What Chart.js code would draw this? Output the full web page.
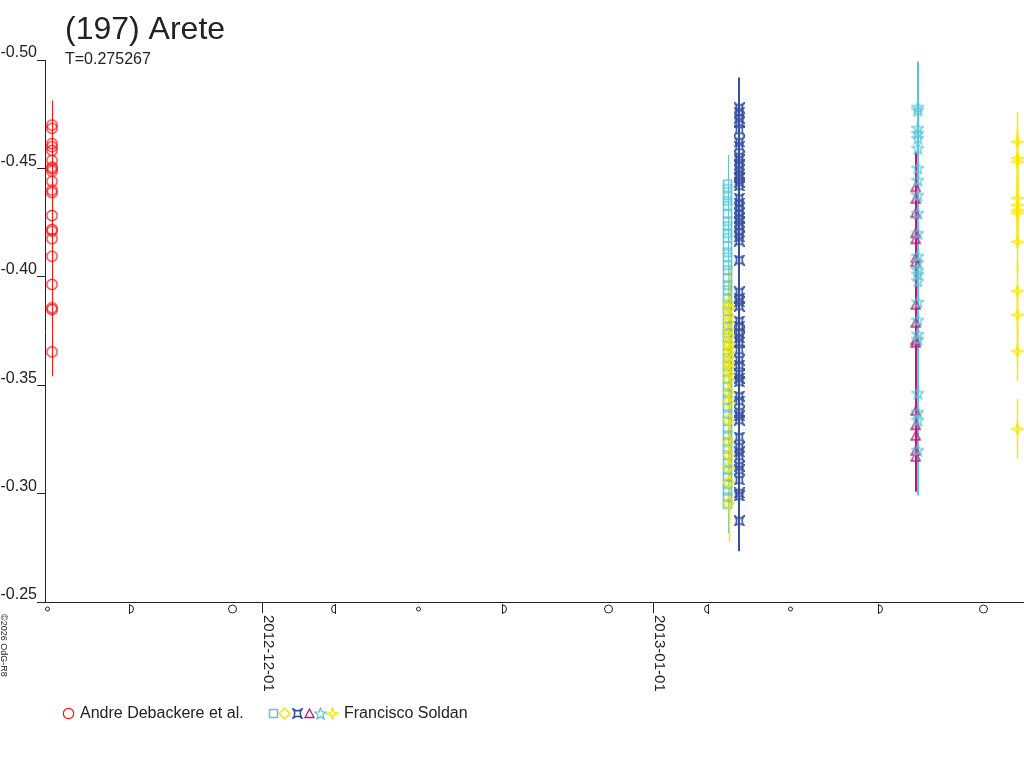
<!DOCTYPE html>
<html><head><meta charset="utf-8">
<script src="https://cdn.jsdelivr.net/npm/chart.js@4"></script>
<style>html,body{margin:0;padding:0;background:#fff;overflow:hidden}canvas{display:block}</style>
</head><body>
<canvas id="c" width="1024" height="768"></canvas>
<script>
// ---------- texts ----------
const titleText = '(197) Arete';
const subtitleText = 'T=0.275267';
const copyrightText = '\u00a92026 OdG-R8';
const observerNames = ['Andre Debackere et al.', 'Francisco Soldan'];

// ---------- axes ----------
const yTickValues = [-0.50, -0.45, -0.40, -0.35, -0.30, -0.25];
const xTickLabels = ['2012-12-01', '2013-01-01'];
const xRangeStart = '2012-11-13T19:05:00Z';
const xRangeEnd = '2013-01-30T09:56:00Z';

// moon phases shown along the time axis
const moonDates = ['2012-11-13T22:08:00Z','2012-11-20T14:31:00Z','2012-11-28T14:46:00Z','2012-12-06T15:31:00Z',
  '2012-12-13T08:42:00Z','2012-12-20T05:19:00Z','2012-12-28T10:21:00Z','2013-01-05T03:58:00Z',
  '2013-01-11T19:44:00Z','2013-01-18T23:45:00Z','2013-01-27T04:38:00Z'];
const moonPhases = ['new','first','full','last','new','first','full','last','new','first','full'];

// ---------- series ----------
// Andre Debackere et al. (red circles)
const andreDate = '2012-11-14T08:24:00Z';
const andreMag = [-0.4700,-0.4685,-0.4614,-0.4600,-0.4583,-0.4537,-0.4506,-0.4499,-0.4488,-0.4441,-0.4400,
  -0.4388,-0.4283,-0.4219,-0.4211,-0.4176,-0.4095,-0.3965,-0.3857,-0.3849,-0.3654];
const andreErr = 0.0113;

// Francisco Soldan, session 1 (cyan squares)
const soldan1Date = '2013-01-06T21:50:00Z';
const soldan1Mag = [-0.4428,-0.4405,-0.4377,-0.4350,-0.4327,-0.4290,-0.4257,-0.4234,-0.4202,-0.4179,-0.4142,
  -0.4114,-0.4091,-0.4054,-0.4031,-0.3994,-0.3962,-0.3939,-0.3898,-0.3870,-0.3842,-0.3805,-0.3773,-0.3741,
  -0.3718,-0.3681,-0.3649,-0.3625,-0.3589,-0.3561,-0.3529,-0.3492,-0.3464,-0.3432,-0.3395,-0.3367,-0.3335,
  -0.3298,-0.3270,-0.3238,-0.3206,-0.3178,-0.3141,-0.3109,-0.3077,-0.3044,-0.3012,-0.2984,-0.2952];
const soldan1Err = 0.0135;

// Francisco Soldan, session 2 (yellow diamonds)
const soldan2Date = '2013-01-06T23:50:00Z';
const soldan2Mag = [-0.3879,-0.3856,-0.3824,-0.3792,-0.3755,-0.3727,-0.3695,-0.3676,-0.3653,-0.3630,-0.3602,
  -0.3579,-0.3556,-0.3524,-0.3469,-0.3423,-0.3339,-0.3238,-0.3178,-0.3123,-0.3054,-0.2957];
const soldan2Err = 0.018;

// Francisco Soldan, session 3 (dark blue)
const soldan3Date = '2013-01-07T20:10:00Z';
const soldan3Mag = [-0.4779,-0.4760,-0.4732,-0.4714,-0.4677,-0.4622,-0.4603,-0.4553,-0.4539,-0.4516,-0.4493,
  -0.4474,-0.4456,-0.4437,-0.4419,-0.4363,-0.4340,-0.4317,-0.4294,-0.4271,-0.4253,-0.4234,-0.4207,-0.4184,
  -0.4165,-0.4077,-0.3930,-0.3902,-0.3884,-0.3865,-0.3796,-0.3773,-0.3741,-0.3718,-0.3699,-0.3662,-0.3616,
  -0.3593,-0.3552,-0.3533,-0.3515,-0.3450,-0.3427,-0.3376,-0.3358,-0.3339,-0.3261,-0.3215,-0.3192,-0.3173,
  -0.3127,-0.3109,-0.3063,-0.3003,-0.2989,-0.2874];
const soldan3Err = 0.014;

// Francisco Soldan, session 4 (magenta triangles)
const soldan4Date = '2013-01-21T20:00:00Z';
const soldan4Mag = [-0.4414,-0.4359,-0.4294,-0.4202,-0.4174,-0.4087,-0.4068,-0.3870,-0.3787,-0.3708,-0.3695,
  -0.3381,-0.3316,-0.3266,-0.3197,-0.3169];
const soldan4Err = 0.016;

// Francisco Soldan, session 5 (cyan stars)
const soldan5Date = '2013-01-22T00:00:00Z';
const soldan5Mag = [-0.4783,-0.4769,-0.4686,-0.4663,-0.4640,-0.4594,-0.4502,-0.4446,-0.4377,-0.4294,-0.4202,
  -0.4096,-0.4068,-0.4031,-0.4013,-0.3981,-0.3884,-0.3801,-0.3736,-0.3713,-0.3464,-0.3376,-0.3339,-0.3201];
const soldan5Err = 0.021;

// Francisco Soldan, session 6 (yellow 4-point stars)
const soldan6Date = '2013-01-29T21:10:00Z';
const soldan6Mag = [-0.4622,-0.4548,-0.4530,-0.4363,-0.4331,-0.4308,-0.4294,-0.4161,-0.3934,-0.3824,-0.3658,-0.3298];
const soldan6Err = 0.0138;

// ---------- styles ----------
const RED = '#ff1010', CYAN = '#5cc6d8', YELLOW = '#fae600', BLUE = '#3650a0', MAGENTA = '#bb1a78', INK = '#222222';
const FONT = "'Liberation Sans', Arial, sans-serif";

function mk(w, h, color, lw, draw) {
  const c = document.createElement('canvas'); c.width = w; c.height = h;
  const g = c.getContext('2d'); g.strokeStyle = color; g.lineWidth = lw; g.beginPath(); draw(g); g.stroke();
  return c;
}
const mCircle = mk(13, 13, RED, 1.2, g => { g.arc(6.5, 6.5, 5.2, 0, Math.PI * 2); });
const mSquare = mk(11, 11, CYAN, 1.5, g => { g.rect(1.5, 1.5, 8, 8); });
const mDiamond = mk(13, 13, YELLOW, 1.4, g => { g.moveTo(6.5, 1); g.lineTo(12, 6.5); g.lineTo(6.5, 12); g.lineTo(1, 6.5); g.closePath(); });
const mCurr = mk(11, 11, BLUE, 1.6, g => {
  g.moveTo(1, 1); g.quadraticCurveTo(5.5, 4.5, 10, 1); g.quadraticCurveTo(6.5, 5.5, 10, 10);
  g.quadraticCurveTo(5.5, 6.5, 1, 10); g.quadraticCurveTo(4.5, 5.5, 1, 1); g.closePath();
});
const mTri = mk(11, 11, MAGENTA, 1.3, g => { g.moveTo(5.5, 1); g.lineTo(10, 9.5); g.lineTo(1, 9.5); g.closePath(); });
const mStar = mk(13, 13, CYAN, 1.3, g => {
  for (let k = 0; k < 10; k++) {
    const r = k % 2 ? 2.6 : 6, a = -Math.PI / 2 + k * Math.PI / 5;
    const px = 6.5 + r * Math.cos(a), py = 7 + r * Math.sin(a);
    k ? g.lineTo(px, py) : g.moveTo(px, py);
  }
  g.closePath();
});
const mSpark = mk(13, 13, YELLOW, 1.4, g => {
  for (let k = 0; k < 8; k++) {
    const r = k % 2 ? 1.8 : 6, a = -Math.PI / 2 + k * Math.PI / 4;
    const px = 6.5 + r * Math.cos(a), py = 6.5 + r * Math.sin(a);
    k ? g.lineTo(px, py) : g.moveTo(px, py);
  }
  g.closePath();
});

const ms = s => Date.parse(s);
function series(date, mags, err, color, marker, errWidth, order) {
  return {
    data: mags.map(v => ({ x: ms(date), y: v })),
    err: err, errWidth: errWidth, order: order,
    borderColor: color, backgroundColor: 'rgba(0,0,0,0)',
    pointStyle: marker, pointRadius: 5, pointHoverRadius: 5, showLine: false
  };
}

const datasets = [
  series(andreDate, andreMag, andreErr, RED, mCircle, 1, 0),
  series(soldan1Date, soldan1Mag, soldan1Err, CYAN, mSquare, 1, 2),
  series(soldan2Date, soldan2Mag, soldan2Err, YELLOW, mDiamond, 1.5, 1),
  series(soldan3Date, soldan3Mag, soldan3Err, BLUE, mCurr, 2, 0),
  series(soldan4Date, soldan4Mag, soldan4Err, MAGENTA, mTri, 2, 1),
  series(soldan5Date, soldan5Mag, soldan5Err, CYAN, mStar, 2, 0),
  series(soldan6Date, soldan6Mag, soldan6Err, YELLOW, mSpark, 1.5, 0)
];

const errorBars = {
  id: 'errorBars',
  beforeDatasetsDraw(chart) {
    const ctx = chart.ctx, ys = chart.scales.y;
    chart.data.datasets.forEach((ds, i) => {
      const meta = chart.getDatasetMeta(i);
      ctx.save();
      ctx.strokeStyle = ds.borderColor; ctx.lineWidth = ds.errWidth;
      meta.data.forEach((el, j) => {
        const v = ds.data[j].y;
        const x = Math.round(el.x) + (ds.errWidth % 2 ? 0.5 : 0);
        ctx.beginPath();
        ctx.moveTo(x, ys.getPixelForValue(v - ds.err));
        ctx.lineTo(x, ys.getPixelForValue(v + ds.err));
        ctx.stroke();
      });
      ctx.restore();
    });
  }
};

const decor = {
  id: 'decor',
  afterDraw(chart) {
    const ctx = chart.ctx, xs = chart.scales.x;
    ctx.save();
    ctx.fillStyle = INK; ctx.strokeStyle = INK; ctx.lineWidth = 1;
    // title & subtitle
    ctx.textBaseline = 'alphabetic'; ctx.textAlign = 'left';
    ctx.font = '32px ' + FONT; ctx.fillText(titleText, 65, 38.5);
    ctx.font = '16px ' + FONT; ctx.fillText(subtitleText, 65, 64);
    // rotated date labels
    ctx.font = '15px ' + FONT;
    xTickLabels.forEach(lbl => {
      const px = xs.getPixelForValue(ms(lbl + 'T00:00:00Z'));
      ctx.save(); ctx.translate(px + 2, 615); ctx.rotate(Math.PI / 2);
      ctx.fillText(lbl, 0, 0); ctx.restore();
    });
    // moon phases
    const my = 609;
    moonDates.forEach((d, i) => {
      const px = Math.round(xs.getPixelForValue(ms(d))) + 0.5;
      const ph = moonPhases[i];
      ctx.beginPath();
      if (ph === 'new') { ctx.arc(px, my, 2, 0, Math.PI * 2); }
      else if (ph === 'full') { ctx.arc(px, my, 4, 0, Math.PI * 2); }
      else if (ph === 'first') { ctx.moveTo(px - 2, my - 5); ctx.lineTo(px - 2, my + 5); ctx.moveTo(px - 2, my - 4); ctx.arc(px - 2, my, 4, -Math.PI / 2, Math.PI / 2); }
      else { ctx.moveTo(px + 2, my - 5); ctx.lineTo(px + 2, my + 5); ctx.moveTo(px + 2, my - 4); ctx.arc(px + 2, my, 4, -Math.PI / 2, Math.PI / 2, true); }
      ctx.stroke();
    });
    // copyright
    ctx.font = '9px ' + FONT;
    ctx.save(); ctx.translate(1, 614); ctx.rotate(Math.PI / 2); ctx.fillText(copyrightText, 0, 0); ctx.restore();
    // legend
    const ly = 713;
    const draw = (m, cx) => ctx.drawImage(m, Math.round(cx - m.width / 2), Math.round(ly - m.height / 2));
    draw(mCircle, 68);
    ctx.font = '16px ' + FONT;
    ctx.fillText(observerNames[0], 80, 718);
    [[mSquare, 273.5], [mDiamond, 284.5], [mCurr, 297.5], [mTri, 309], [mStar, 320], [mSpark, 332]].forEach(p => draw(p[0], p[1]));
    ctx.fillText(observerNames[1], 344, 718);
    ctx.restore();
  }
};

new Chart(document.getElementById('c').getContext('2d'), {
  type: 'scatter',
  data: { datasets: datasets },
  options: {
    responsive: false, animation: false, devicePixelRatio: 1, events: [],
    layout: { autoPadding: false, padding: { top: 60, left: 0, right: 0, bottom: 0 } },
    plugins: { legend: { display: false }, tooltip: { enabled: false }, title: { display: false } },
    scales: {
      x: {
        type: 'linear', position: 'bottom', min: ms(xRangeStart), max: ms(xRangeEnd),
        afterBuildTicks: s => { s.ticks = xTickLabels.map(d => ({ value: ms(d + 'T00:00:00Z') })); },
        afterFit: s => { s.height = 166; },
        ticks: { display: false },
        grid: { drawOnChartArea: false, drawTicks: true, tickLength: 11, color: INK, lineWidth: 1 },
        border: { display: true, color: INK, width: 1 }
      },
      y: {
        type: 'linear', reverse: true, min: -0.5, max: -0.25,
        afterBuildTicks: s => { s.ticks = yTickValues.map(v => ({ value: v })); },
        afterFit: s => { s.width = 45; },
        ticks: { font: { family: FONT, size: 16 }, color: INK, padding: 0, labelOffset: -7,
          callback: v => Number(v).toFixed(2) },
        grid: { drawOnChartArea: false, drawTicks: true, tickLength: 8, color: INK, lineWidth: 1 },
        border: { display: true, color: INK, width: 1 }
      }
    }
  },
  plugins: [errorBars, decor]
});
</script>
</body></html>
